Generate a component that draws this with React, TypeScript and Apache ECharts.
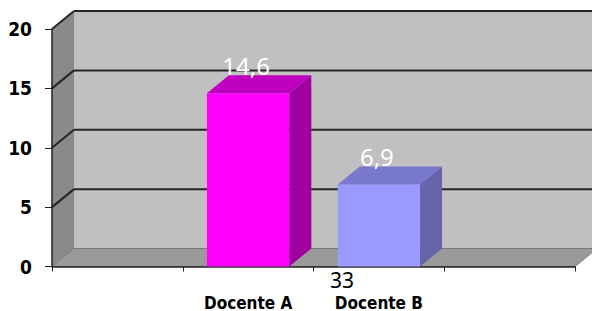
import React, { useEffect, useRef } from "react";
import * as echarts from "echarts";

// ---- data ----
const axisCategories = ["", "Docente A", "Docente B", ""];
const barCategories = ["Docente A", "Docente B"];
const barValues = [14.6, 6.9];
const yTicks = [0, 5, 10, 15, 20];
const pageNumber = "33";

// ---- styles ----
const DEPTH = [22, -18];
const barStyles = [
  { front: "#ff00ff", top: "#c000c0", side: "#a000a0" },
  { front: "#9999ff", top: "#7878cc", side: "#6464aa" },
];
const condensed = "'DejaVu Sans Condensed', 'DejaVu Sans', sans-serif";

export default function App() {
  const ref = useRef<HTMLDivElement>(null);
  useEffect(() => {
    if (!ref.current) return;
    const chart = echarts.init(ref.current, undefined, { renderer: "svg" });
    const [dx, dy] = DEPTH;
    const barData = barCategories.map((c, i) => [axisCategories.indexOf(c), barValues[i], i]);
    chart.setOption({
      animation: false,
      backgroundColor: "#ffffff",
      grid: { left: 52, right: 17, top: 29, bottom: 43 },
      xAxis: {
        type: "category",
        data: axisCategories,
        boundaryGap: true,
        axisLine: { show: true, lineStyle: { color: "#222", width: 1.5 } },
        axisTick: { show: true, length: 5, lineStyle: { color: "#222" } },
        axisLabel: {
          interval: 0,
          margin: 28,
          lineHeight: 16,
          fontFamily: condensed,
          fontWeight: "bold",
          fontSize: 17,
          color: "#000",
        },
        splitLine: { show: false },
      },
      yAxis: {
        type: "value",
        min: 0,
        max: 20,
        interval: 5,
        axisLine: { show: true, lineStyle: { color: "#222", width: 1.5 } },
        axisTick: { show: true, length: 7, lineStyle: { color: "#222" } },
        axisLabel: {
          margin: 20,
          fontFamily: condensed,
          fontWeight: "bold",
          fontSize: 19,
          color: "#000",
        },
        splitLine: { show: false },
      },
      series: [
        {
          type: "custom",
          z: -1,
          silent: true,
          data: [[0, 0]],
          renderItem: (params: any, api: any) => {
            const cs = params.coordSys;
            const x0 = cs.x, x1 = cs.x + cs.width;
            const yTop = cs.y, yBot = cs.y + cs.height;
            const children: any[] = [
              {
                type: "rect",
                shape: { x: x0 + dx, y: yTop + dy, width: x1 - x0, height: yBot - yTop },
                style: { fill: "#c0c0c0" },
              },
              {
                type: "polygon",
                shape: { points: [[x0, yTop], [x0 + dx, yTop + dy], [x0 + dx, yBot + dy], [x0, yBot]] },
                style: { fill: "#8a8a8a" },
              },
              {
                type: "polygon",
                shape: { points: [[x0, yBot], [x0 + dx, yBot + dy], [x1 + dx, yBot + dy], [x1, yBot]] },
                style: { fill: "#9a9a9a", stroke: "#777", lineWidth: 1 },
              },
            ];
            yTicks.forEach((t) => {
              if (t === 0) return;
              const y = api.coord([0, t])[1];
              children.push({
                type: "line",
                shape: { x1: x0 + dx, y1: y + dy, x2: x1 + dx, y2: y + dy },
                style: { stroke: "#262626", lineWidth: 2 },
              });
              children.push({
                type: "line",
                shape: { x1: x0, y1: y, x2: x0 + dx, y2: y + dy },
                style: { stroke: "#262626", lineWidth: 2 },
              });
            });
            return { type: "group", children };
          },
        },
        {
          type: "custom",
          z: 3,
          data: barData,
          renderItem: (params: any, api: any) => {
            const cat = api.value(0);
            const v = api.value(1);
            const idx = api.value(2);
            const st = barStyles[idx];
            const top = api.coord([cat, v]);
            const base = api.coord([cat, 0]);
            const bw = api.size([1, 0])[0] * 0.63;
            const xl = top[0] - bw / 2, xr = top[0] + bw / 2;
            const yt = top[1], yb = base[1];
            return {
              type: "group",
              children: [
                { type: "rect", shape: { x: xl, y: yt, width: bw, height: yb - yt }, style: { fill: st.front } },
                {
                  type: "polygon",
                  shape: { points: [[xl, yt], [xl + dx, yt + dy], [xr + dx, yt + dy], [xr, yt]] },
                  style: { fill: st.top },
                },
                {
                  type: "polygon",
                  shape: { points: [[xr, yt], [xr + dx, yt + dy], [xr + dx, yb + dy], [xr, yb]] },
                  style: { fill: st.side },
                },
                {
                  type: "text",
                  x: top[0] - 2,
                  y: yt + dy + 2,
                  style: {
                    text: String(v).replace(".", ","),
                    fill: "#ffffff",
                    fontSize: 24,
                    fontFamily: "'Noto Sans', sans-serif",
                    align: "center",
                    verticalAlign: "bottom",
                  },
                },
              ],
            };
          },
        },
      ],
      graphic: [
        {
          type: "text",
          left: 330,
          top: 269,
          style: {
            text: pageNumber,
            fill: "#000",
            fontSize: 21,
            fontFamily: "'Noto Sans', sans-serif",
          },
        },
      ],
    });
    return () => chart.dispose();
  }, []);
  return <div ref={ref} style={{ position: "fixed", left: 0, top: 0, width: 592, height: 311 }} />;
}
